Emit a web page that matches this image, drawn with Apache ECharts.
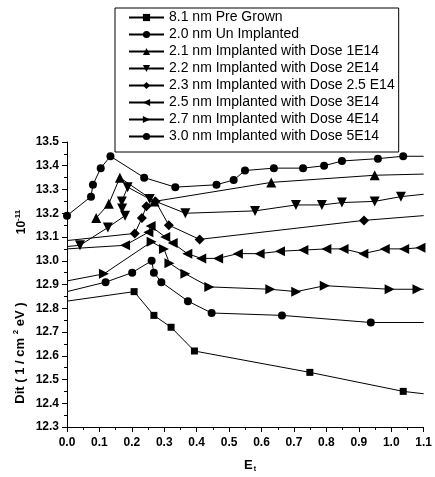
<!DOCTYPE html>
<html><head><meta charset="utf-8">
<script src="https://cdn.jsdelivr.net/npm/echarts@6/dist/echarts.min.js"></script>
<style>html,body{margin:0;padding:0;background:#fff}#c{width:435px;height:477px}</style>
</head><body><div id="c"></div>
<script>
// ---- data (x = Et, y = Dit in 1e11 units) ----
const seriesNames = [
  '8.1 nm Pre Grown',
  '2.0 nm Un Implanted',
  '2.1 nm Implanted with Dose 1E14',
  '2.2 nm Implanted with Dose 2E14',
  '2.3 nm Implanted with Dose 2.5 E14',
  '2.5 nm Implanted with Dose 3E14',
  '2.7 nm Implanted with Dose 4E14',
  '3.0 nm Implanted with Dose 5E14'
];
const xTicks = ['0.0','0.1','0.2','0.3','0.4','0.5','0.6','0.7','0.8','0.9','1.0','1.1'];
const yTicks = ['12.3','12.4','12.5','12.6','12.7','12.8','12.9','13.0','13.1','13.2','13.3','13.4','13.5'];

const preGrownX = [0.207, 0.268, 0.321, 0.393, 0.749, 1.037];
const preGrownY = [12.87, 12.77, 12.72, 12.62, 12.53, 12.45];
const preGrownEnds = [12.83, 12.44];

const unImplX = [0.119, 0.201, 0.261, 0.268, 0.291, 0.373, 0.446, 0.663, 0.937];
const unImplY = [12.91, 12.95, 13.00, 12.95, 12.91, 12.83, 12.78, 12.77, 12.74];
const unImplEnds = [12.87, 12.74];

const dose1X = [0.09, 0.129, 0.163, 0.27, 0.63, 0.949];
const dose1Y = [13.18, 13.24, 13.35, 13.25, 13.33, 13.36];
const dose1Ends = [null, 13.365];

const dose2X = [0.04, 0.126, 0.179, 0.170, 0.169, 0.187, 0.255, 0.365, 0.58, 0.706, 0.786, 0.848, 0.949, 1.03];
const dose2Y = [13.065, 13.14, 13.19, 13.22, 13.25, 13.31, 13.26, 13.20, 13.21, 13.235, 13.235, 13.245, 13.25, 13.27];
const dose2Ends = [13.06, 13.28];

const dose25X = [0.209, 0.231, 0.245, 0.273, 0.314, 0.409, 0.916];
const dose25Y = [13.115, 13.18, 13.23, 13.25, 13.15, 13.09, 13.17];
const dose25Ends = [13.085, 13.19];

const dose3X = [0.179, 0.251, 0.258, 0.303, 0.326, 0.371, 0.414, 0.466, 0.527, 0.594, 0.657, 0.729, 0.80, 0.853, 0.914, 0.98, 1.04, 1.09];
const dose3Y = [13.065, 13.12, 13.146, 13.10, 13.075, 13.03, 13.01, 13.01, 13.03, 13.03, 13.04, 13.045, 13.05, 13.05, 13.03, 13.05, 13.05, 13.055];
const dose3Ends = [13.05, 13.055];

const dose4X = [0.114, 0.261, 0.299, 0.316, 0.365, 0.439, 0.627, 0.707, 0.795, 0.995, 1.081];
const dose4Y = [12.945, 13.08, 13.05, 12.99, 12.945, 12.89, 12.88, 12.87, 12.895, 12.88, 12.88];
const dose4Ends = [12.915, 12.88];

const dose5X = [0.0, 0.074, 0.080, 0.104, 0.134, 0.238, 0.334, 0.461, 0.514, 0.549, 0.638, 0.728, 0.793, 0.848, 0.959, 1.037];
const dose5Y = [13.19, 13.27, 13.32, 13.39, 13.44, 13.35, 13.31, 13.32, 13.34, 13.38, 13.39, 13.39, 13.40, 13.42, 13.43, 13.44];
const dose5Ends = [null, 13.44];

const X_MIN = 0, X_MAX = 1.1;

function build(xs, ys, ends) {
  const d = [];
  if (ends[0] !== null) d.push({ value: [X_MIN, ends[0]], symbol: 'none' });
  xs.forEach((x, i) => d.push([x, ys[i]]));
  if (ends[1] !== null) d.push({ value: [X_MAX, ends[1]], symbol: 'none' });
  return d;
}

const defs = [
  [preGrownX, preGrownY, preGrownEnds, 'rect', 7, 0],
  [unImplX, unImplY, unImplEnds, 'circle', 8, 0],
  [dose1X, dose1Y, dose1Ends, 'triangle', 10, 0],
  [dose2X, dose2Y, dose2Ends, 'triangle', 10, 180],
  [dose25X, dose25Y, dose25Ends, 'diamond', 10, 0],
  [dose3X, dose3Y, dose3Ends, 'triangle', 10, 90],
  [dose4X, dose4Y, dose4Ends, 'triangle', 10, -90],
  [dose5X, dose5Y, dose5Ends, 'circle', 8, 0]
];

const FONT = '"Liberation Sans", Arial, sans-serif';

const series = defs.map((d, i) => ({
  name: seriesNames[i],
  type: 'line',
  data: build(d[0], d[1], d[2]),
  symbol: d[3],
  symbolSize: d[4],
  symbolRotate: d[5],
  showAllSymbol: true,
  clip: true,
  color: '#000',
  itemStyle: { color: '#000' },
  lineStyle: { color: '#000', width: 1 },
  animation: false,
  z: 2
}));

const chart = echarts.init(document.getElementById('c'), null, { renderer: 'canvas' });
chart.setOption({
  backgroundColor: '#fff',
  animation: false,
  grid: { left: 67, right: 7, top: 142, bottom: 50, containLabel: false },
  legend: {
    orient: 'vertical',
    left: 115, top: 8,
    padding: [2, 4, 8, 13],
    borderColor: '#000', borderWidth: 1,
    backgroundColor: '#fff',
    itemWidth: 35, itemHeight: 9, itemGap: 2,
    textStyle: { fontFamily: FONT, fontSize: 14, color: '#000', lineHeight: 15 },
    data: seriesNames,
    z: 10
  },
  xAxis: {
    type: 'value', min: X_MIN, max: X_MAX, interval: 0.1,
    axisLine: { show: true, lineStyle: { color: '#000', width: 1 } },
    axisTick: { show: true, length: 5, lineStyle: { color: '#000' } },
    minorTick: { show: true, splitNumber: 2, length: 3, lineStyle: { color: '#000' } },
    splitLine: { show: false },
    axisLabel: {
      margin: 10, color: '#000', fontFamily: FONT, fontWeight: 'bold', fontSize: 12,
      formatter: v => xTicks[Math.round(v * 10)]
    }
  },
  yAxis: {
    type: 'value', min: 12.3, max: 13.5, interval: 0.1,
    axisLine: { show: true, lineStyle: { color: '#000', width: 1 } },
    axisTick: { show: true, length: 5, lineStyle: { color: '#000' } },
    minorTick: { show: true, splitNumber: 2, length: 3, lineStyle: { color: '#000' } },
    splitLine: { show: false },
    axisLabel: {
      margin: 8, color: '#000', fontFamily: FONT, fontWeight: 'bold', fontSize: 12,
      formatter: v => yTicks[Math.round((v - 12.3) * 10)]
    }
  },
  graphic: [
    {
      type: 'text', x: 22, y: 222, rotation: Math.PI / 2,
      style: {
        text: '10{sup|-11}', align: 'center', verticalAlign: 'middle',
        font: 'bold 12px ' + FONT, fill: '#000',
        rich: { sup: { font: 'bold 8px ' + FONT, fill: '#000', padding: [0, 0, 8, 0] } }
      }
    },
    {
      type: 'text', x: 20, y: 353, rotation: Math.PI / 2,
      style: {
        text: 'Dit ( 1 / cm {sup|2} eV )', align: 'center', verticalAlign: 'middle',
        font: 'bold 13px ' + FONT, fill: '#000',
        rich: { sup: { font: 'bold 8px ' + FONT, fill: '#000', padding: [0, 0, 9, 0] } }
      }
    },
    {
      type: 'text', x: 250, y: 465,
      style: {
        text: 'E{sub|t}', align: 'center', verticalAlign: 'middle',
        font: 'bold 13px ' + FONT, fill: '#000',
        rich: { sub: { font: 'bold 7px ' + FONT, fill: '#000', padding: [8, 0, 0, 1] } }
      }
    }
  ],
  series: series
});
</script>
</body></html>
